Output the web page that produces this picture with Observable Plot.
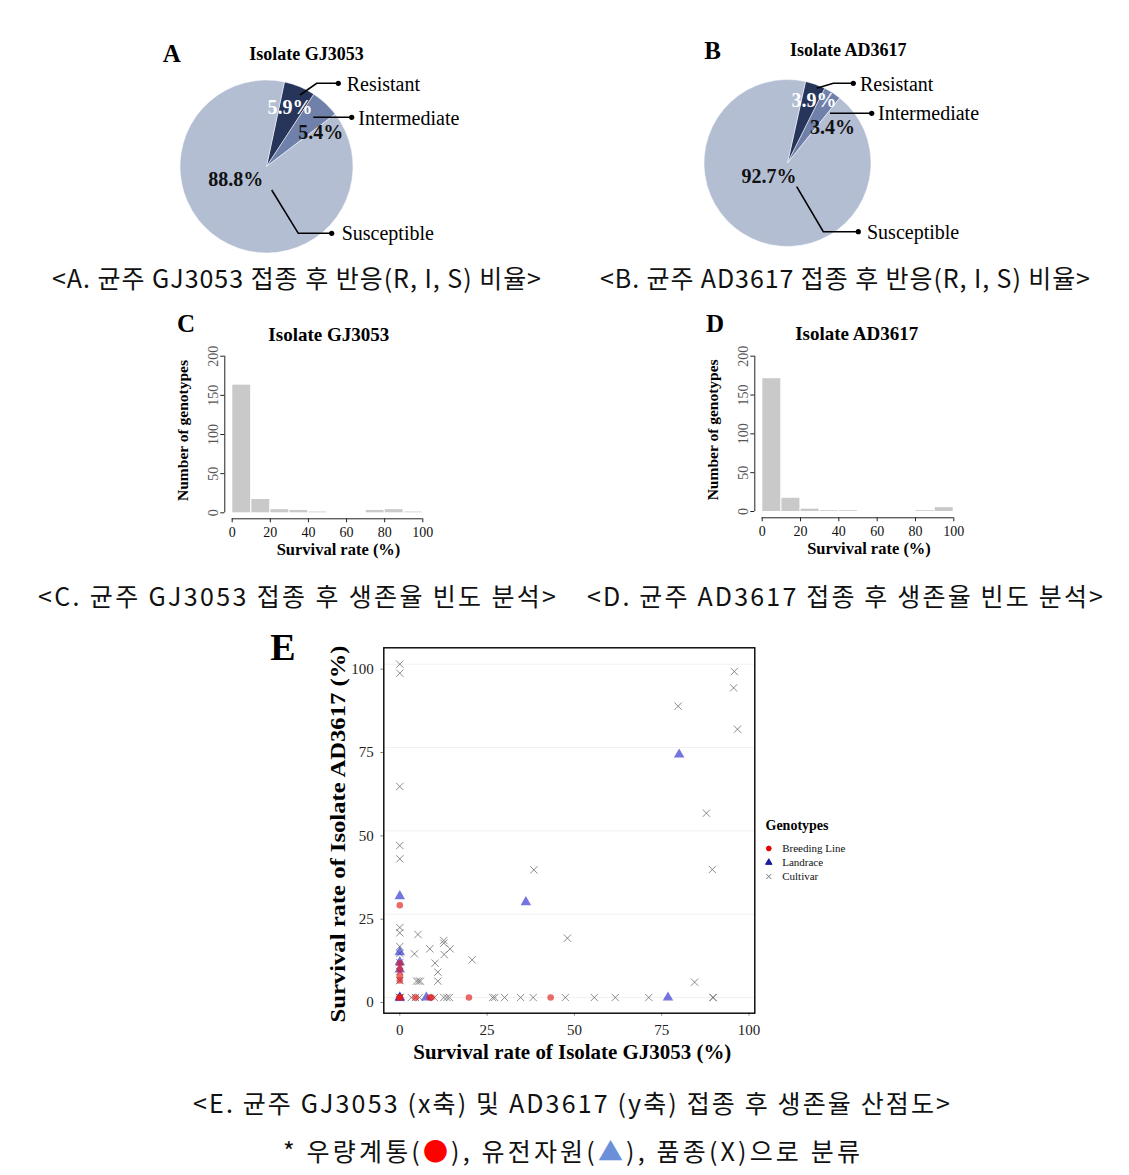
<!DOCTYPE html>
<html><head><meta charset="utf-8">
<script src="https://cdn.jsdelivr.net/npm/d3@7"></script>
<script src="https://cdn.jsdelivr.net/npm/@observablehq/plot@0.6"></script>
<style>
body{margin:0;background:#fff;}
#root{position:relative;width:1129px;height:1175px;overflow:hidden;background:#fff;font-family:"Liberation Serif",serif;color:#000;}
.abs{position:absolute;}
.c{position:absolute;transform:translate(-50%,-50%);white-space:nowrap;line-height:1;font-weight:bold;}
.cap{position:absolute;white-space:nowrap;font-family:"Noto Sans CJK KR",sans-serif;font-size:25px;line-height:1;transform:translateY(-50%);color:#111;}
</style></head><body><div id="root"></div>
<script>
// ---------------- DATA ----------------
const reactionClasses = ["Resistant", "Intermediate", "Susceptible"];
const pieGJ3053 = [5.9, 5.4, 88.8];
const pieAD3617 = [3.9, 3.4, 92.7];

const binStarts = [0, 10, 20, 30, 40, 50, 60, 70, 80, 90];
const histGJ3053 = [163, 17, 4, 3, 1, 0, 0, 3, 4, 1];
const histAD3617 = [171, 17, 3, 1, 1, 0, 0, 0, 1, 5];
const histYTicks = [0, 50, 100, 150, 200];
const histXTicks = [0, 20, 40, 60, 80, 100];

const scatterTicks = [0, 25, 50, 75, 100];
const genotypes = ["Breeding Line", "Landrace", "Cultivar"];
const breedingGJ = [0, 0, 0, 0, 0, 0, 0, 0, 0, 4.5, 8.6, 9.1, 19.8, 43.2];
const breedingAD = [0, 0, 0, 0, 27.7, 10.2, 8.4, 6.6, 5.1, 0, 0, 0, 0, 0];
const landraceGJ = [0, 0, 0, 0, 0, 0, 7.6, 36.1, 76.8, 80.0];
const landraceAD = [30.4, 13.6, 10.6, 8.4, 0, 0, 0, 28.6, 0, 72.9];
const cultivarGJ = [0, 0, 0, 0, 0, 0, 0, 0, 0, 0, 0, 0, 0, 0, 0, 0,
  3.3, 4.5, 5.6, 9.9, 12.6, 13.5, 14.2, 26.6, 27.2, 30.0, 34.6, 38.2, 47.4, 55.7, 61.7, 71.3, 89.7, 89.7,
  38.4, 5.2, 12.6, 12.6, 14.4, 8.6, 4.2, 12.7, 20.7, 10.1, 10.9, 10.9, 4.8, 5.4, 5.9, 48.0, 84.4, 89.5, 87.8, 96.7, 79.7, 95.6, 95.8];
const cultivarAD = [100, 97.3, 63.3, 45.6, 41.6, 21.0, 19.4, 15.3, 13.2, 10.5, 7.8, 5.1, 5.1, 0, 0, 0,
  0, 0, 0, 0, 0, 0, 0, 0, 0, 0, 0, 0, 0, 0, 0, 0, 0, 0,
  38.3, 18.9, 17.1, 16.3, 14.6, 14.6, 13.1, 12.9, 11.3, 10.3, 7.6, 4.9, 4.9, 4.9, 4.9, 17.8, 4.6, 38.4, 55.3, 80.5, 87.4, 92.9, 97.8];

// ---------------- STYLE / LAYOUT ----------------
const pieColors = ["#27355b", "#6f81ab", "#b3bed3"];
const pieLayoutA = {center: [116.5, 136.5], radius: 86.5, startDeg: 12,
  leaders: [[[33.5, -71.5], [50.2, -83.2], [71.8, -83.2]], [[46.8, -49.2], [85.2, -49.2]], [[5.2, 23.5], [31.8, 66.8], [65.2, 66.8]]],
  names: [[80.2, -82.5], [91.8, -48.5], [75.2, 66]],
  pcts: [[23.5, -59.8], [54.3, -34.8], [-30.7, 12.5]]};
const pieLayoutB = {center: [97.5, 133], radius: 83.5, startDeg: 12.5,
  leaders: [[[29.2, -74.7], [45.8, -79.7], [65.8, -79.7]], [[42.5, -49.7], [84.2, -49.7]], [[9.2, 23.7], [35.8, 68.7], [70.8, 68.7]]],
  names: [[72.5, -79], [90.5, -50], [79.5, 69]],
  pcts: [[26.5, -63], [45, -36.3], [-18.5, 13]]};

const root = document.getElementById("root");
function place(node, left, top) {
  node.style.position = "absolute";
  node.style.left = left + "px";
  node.style.top = top + "px";
  root.appendChild(node);
  return node;
}
function label(text, x, y, size) {
  const d = document.createElement("div");
  d.className = "c";
  d.textContent = text;
  d.style.left = x + "px"; d.style.top = y + "px"; d.style.fontSize = size + "px";
  root.appendChild(d);
}

// ---------------- PIES ----------------
function pieMark(values, L) {
  return () => {
    const g = d3.create("svg:g").attr("transform", `translate(${L.center[0]},${L.center[1]})`);
    const a0 = L.startDeg * Math.PI / 180;
    const arcs = d3.pie().sort(null).startAngle(a0).endAngle(a0 + 2 * Math.PI)(values);
    const arc = d3.arc().innerRadius(0).outerRadius(L.radius);
    g.selectAll("path.slice").data(arcs).join("path").attr("class", "slice")
      .attr("d", arc).attr("fill", (d, i) => pieColors[i]).attr("stroke", "#fff").attr("stroke-width", 0.5);
    L.leaders.forEach((pts, i) => {
      g.append("path").attr("d", d3.line()(pts)).attr("fill", "none").attr("stroke", "#000").attr("stroke-width", 1.6);
      const e = pts[pts.length - 1];
      g.append("circle").attr("cx", e[0]).attr("cy", e[1]).attr("r", 2.6).attr("fill", "#000");
      g.append("text").attr("x", L.names[i][0]).attr("y", L.names[i][1]).attr("dy", "0.35em")
        .attr("text-anchor", "start").attr("font-size", 20).attr("fill", "#000").text(reactionClasses[i]);
    });
    values.forEach((v, i) => {
      g.append("text").attr("x", L.pcts[i][0]).attr("y", L.pcts[i][1]).attr("dy", "0.35em")
        .attr("text-anchor", "middle").attr("font-size", 20).attr("font-weight", "bold")
        .attr("fill", i === 0 ? "#fff" : "#111").text(v.toFixed(1) + "%");
    });
    return g.node();
  };
}
function piePlot(values, L, w) {
  return Plot.plot({width: w, height: 230, margin: 0,
    style: {fontFamily: "Liberation Serif", background: "transparent"},
    marks: [pieMark(values, L)]});
}
place(piePlot(pieGJ3053, pieLayoutA, 320), 150, 30);
place(piePlot(pieAD3617, pieLayoutB, 300), 690, 30);

// ---------------- HISTOGRAMS ----------------
function histPlot(counts, mr, mb, axisDy) {
  const rows = binStarts.map((b, i) => ({x1: b, x2: b + 10, y: counts[i]}));
  return Plot.plot({
    width: 290, height: 230, marginLeft: 71.7, marginRight: mr, marginTop: 15.7, marginBottom: mb,
    x: {domain: [0, 100]}, y: {domain: [0, 200]},
    style: {fontFamily: "Liberation Serif", fontSize: "14px", background: "transparent", color: "#000"},
    marks: [
      Plot.rectY(rows, {x1: "x1", x2: "x2", y: "y", fill: "#c9c9c9", insetLeft: 0.6, insetRight: 0.6}),
      Plot.ruleX([0], {dx: -7.4, stroke: "#222"}),
      Plot.axisY(histYTicks, {dx: -7.4, tickSize: 4, tickRotate: -90, tickPadding: 3, fill: "#555", stroke: "#222", label: null}),
      Plot.ruleY([0], {dy: axisDy, stroke: "#222"}),
      Plot.axisX(histXTicks, {dy: axisDy, tickSize: 4, tickPadding: 4, fill: "#111", stroke: "#222", label: null}),
      Plot.text(["Survival rate (%)"], {frameAnchor: "bottom", dx: 11, dy: 42, fontWeight: "bold", fontSize: 16.5}),
      Plot.text(["Number of genotypes"], {frameAnchor: "left", rotate: -90, textAnchor: "middle", dx: -48.7, dy: -4, fontWeight: "bold", fontSize: 15.5})
    ]
  });
}
place(histPlot(histGJ3053, 27.7, 57.7, 6), 160, 340);
place(histPlot(histAD3617, 26.7, 59, 6.3), 690, 340);

// ---------------- SCATTER ----------------
const rowsOf = (xs, ys) => xs.map((x, i) => ({x, y: ys[i]}));
const xLabel = "Survival rate of Isolate GJ3053 (%)";
const yLabel = "Survival rate of Isolate AD3617 (%)";
const scatter = Plot.plot({
  width: 470, height: 450, marginLeft: 83.3, marginRight: 15.7, marginTop: 17.3, marginBottom: 67.3,
  x: {domain: [-4.58, 101.66]}, y: {domain: [-4.71, 104.92]},
  style: {fontFamily: "Liberation Serif", fontSize: "15px", background: "transparent", color: "#000"},
  marks: [
    Plot.gridY(scatterTicks, {stroke: "#f1f1f1", strokeOpacity: 1}),
    Plot.axisY(scatterTicks, {tickSize: 3, tickPadding: 7, dy: 5, stroke: "#888", fill: "#222", label: null}),
    Plot.axisX(scatterTicks, {tickSize: 3, tickPadding: 8, stroke: "#888", fill: "#222", label: null}),
    Plot.dot(rowsOf(cultivarGJ, cultivarAD), {x: "x", y: "y", symbol: "times", r: 3.4, stroke: "#666", strokeOpacity: 0.75, strokeWidth: 1}),
    Plot.dot(rowsOf(landraceGJ, landraceAD), {x: "x", y: "y", symbol: "triangle", r: 3.9, fill: "#2b2bd0", fillOpacity: 0.65, stroke: "none"}),
    Plot.dot(rowsOf(breedingGJ, breedingAD), {x: "x", y: "y", symbol: "circle", r: 3.3, fill: "#e41a1c", fillOpacity: 0.65, stroke: "none"}),
    Plot.frame({stroke: "#000", strokeWidth: 1.4}),
    Plot.text([xLabel], {frameAnchor: "bottom", dx: 3, dy: 45.3, fontWeight: "bold", fontSize: 22}),
    Plot.text([yLabel], {frameAnchor: "left", rotate: -90, textAnchor: "middle", dx: -46.3, dy: 3.5, fontWeight: "bold", fontSize: 22})
  ]
});
scatter.querySelectorAll("text").forEach(t => {
  if (t.textContent === xLabel) { t.setAttribute("textLength", 318); t.setAttribute("lengthAdjust", "spacingAndGlyphs"); }
  if (t.textContent === yLabel) { t.setAttribute("textLength", 377); t.setAttribute("lengthAdjust", "spacingAndGlyphs"); }
});
place(scatter, 300, 630);

// legend
const legendColors = ["#e60000", "#1a1aa0", "#777"];
const legend = Plot.plot({
  width: 200, height: 75, margin: 0,
  x: {domain: [0, 1], range: [68.3, 81.7]},
  y: {domain: genotypes, type: "point", range: [37, 66], padding: 0},
  symbol: {domain: genotypes, range: ["circle", "triangle", "times"]},
  color: {domain: genotypes, range: legendColors},
  style: {fontFamily: "Liberation Serif", fontSize: "11px", background: "transparent", color: "#000"},
  marks: [
    Plot.text(["Genotypes"], {frameAnchor: "top-left", dx: 65, dy: 15, textAnchor: "start", lineAnchor: "middle", fontWeight: "bold", fontSize: 14}),
    Plot.dot(genotypes, {x: () => 0, y: d => d, symbol: d => d, fill: d => d, stroke: d => d, r: 2.4, strokeWidth: 1}),
    Plot.text(genotypes, {x: () => 1, y: d => d, text: d => d, textAnchor: "start", fill: "#111"})
  ]
});
place(legend, 700, 810);

// ---------------- TITLES ----------------
label("A", 171.7, 53.3, 25);
label("Isolate GJ3053", 306.5, 53.5, 18);
label("B", 712.5, 50, 25);
label("Isolate AD3617", 848.3, 49.5, 18);
label("C", 186, 323, 25);
label("Isolate GJ3053", 328.8, 334, 19);
label("D", 715, 323, 25);
label("Isolate AD3617", 856.7, 333, 19);
label("E", 283, 647, 38);

// ---------------- CAPTIONS ----------------
const captions = [
  {x: 52, y: 277, w: 489, html: "&lt;A. 균주 GJ3053 접종 후 반응(R, I, S) 비율&gt;"},
  {x: 600, y: 277, w: 490, html: "&lt;B. 균주 AD3617 접종 후 반응(R, I, S) 비율&gt;"},
  {x: 38, y: 595, w: 518, html: "&lt;C. 균주 GJ3053 접종 후 생존율 빈도 분석&gt;"},
  {x: 587, y: 595, w: 516, html: "&lt;D. 균주 AD3617 접종 후 생존율 빈도 분석&gt;"},
  {x: 193, y: 1102, w: 757, html: "&lt;E. 균주 GJ3053 (x축) 및 AD3617 (y축) 접종 후 생존율 산점도&gt;"},
  {x: 283, y: 1150, w: 577, html: "* 우량계통(<span style=\"color:#f00\">●</span>), 유전자원(<span style=\"color:#6b8fd9\">▲</span>), 품종(X)으로 분류"}
];
const capNodes = captions.map(c => {
  const d = document.createElement("div");
  d.className = "cap";
  d.innerHTML = c.html;
  d.style.left = c.x + "px"; d.style.top = c.y + "px";
  root.appendChild(d);
  return [d, c];
});
function fit() {
  capNodes.forEach(([d, c]) => {
    d.style.letterSpacing = "0px";
    const w = d.getBoundingClientRect().width;
    const n = d.textContent.length;
    d.style.letterSpacing = ((c.w - w) / (n - 1)) + "px";
  });
}
fit();
if (document.fonts && document.fonts.ready) document.fonts.ready.then(fit);
</script>
</body></html>
